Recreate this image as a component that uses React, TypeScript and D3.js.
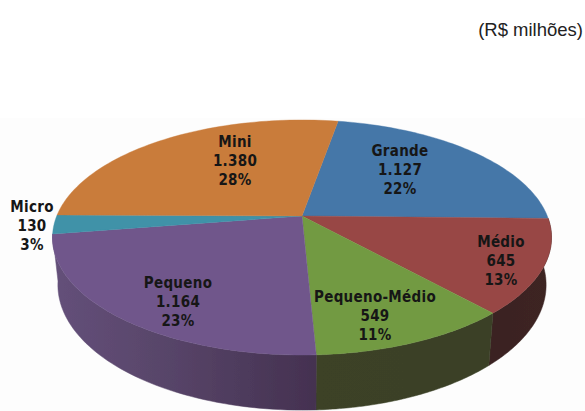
import React from "react";
import * as d3 from "d3";

const categories = ["Grande", "Médio", "Pequeno-Médio", "Pequeno", "Micro", "Mini"];
const valueLabels = ["1.127", "645", "549", "1.164", "130", "1.380"];
const values = [1127, 645, 549, 1164, 130, 1380];
const shares = ["22%", "13%", "11%", "23%", "3%", "28%"];
const topColors = ["#4577a8", "#984745", "#729a42", "#70578b", "#3f92a8", "#c97b3b"];
const labelCentres: [number, number][] = [[400, 156], [501, 247], [375, 302], [178, 288], [32, 212], [235, 147]];

const W = 585, H = 411;
const startDeg = 10;

// perspective projection of the unit disc
const persp = 0.183;
const project = (t: number, cx: number, cy: number, c: number, a: number): [number, number] => {
  const X = Math.sin(t), Y = -Math.cos(t), k = 1 - persp * Y;
  return [cx + (c * X) / k, cy + (a * Y) / k];
};
const topPt = (t: number) => project(t, 302, 216, 245.3, 113.6);
const botPt = (t: number) => project(t, 302, 262, 240, 121);

const pie = d3.pie<number>().sort(null).startAngle((startDeg * Math.PI) / 180).endAngle((startDeg * Math.PI) / 180 + 2 * Math.PI);
const arcs = pie(values);
const samples = (a: number, b: number) => d3.range(0, 61).map((i) => a + ((b - a) * i) / 60);
const line = d3.line();

export default function App() {
  const sideArcs = arcs
    .map((d, i) => {
      const s = Math.max(d.startAngle, Math.PI / 2);
      const e = Math.min(d.endAngle, (3 * Math.PI) / 2 - 0.02);
      return { i, s, e, d };
    })
    .filter((o) => o.e > o.s);
  return (
    <svg
      width={W}
      height={H}
      viewBox={`0 0 ${W} ${H}`}
      style={{ position: "absolute", left: 0, top: 0, display: "block" }}
    >
      <defs>
        <filter id="soft" x="-5%" y="-5%" width="110%" height="110%">
          <feGaussianBlur stdDeviation="0.6" />
        </filter>
        <linearGradient id="side1" gradientUnits="userSpaceOnUse" x1="490" x2="552" y1="0" y2="0">
          <stop offset="0" stopColor="#3a2322" />
          <stop offset="1" stopColor="#3d2524" />
        </linearGradient>
        <linearGradient id="side2" gradientUnits="userSpaceOnUse" x1="317" x2="494" y1="0" y2="0">
          <stop offset="0" stopColor="#3c4227" />
          <stop offset="1" stopColor="#3a4026" />
        </linearGradient>
        <linearGradient id="side3" gradientUnits="userSpaceOnUse" x1="53" x2="317" y1="0" y2="0">
          <stop offset="0" stopColor="#64507a" />
          <stop offset="0.45" stopColor="#574468" />
          <stop offset="1" stopColor="#443150" />
        </linearGradient>
      </defs>
      <rect x={0} y={118} width={W} height={H - 118} fill="#fdfdfd" />
      <text x={583} y={36} textAnchor="end" fontFamily="Liberation Sans, Arial, sans-serif" fontSize={18.5} fill="#222">
        (R$ milhões)
      </text>
      <g filter="url(#soft)">
        {sideArcs.map((o) => {
          const ang = samples(o.s, o.e);
          const pts = [...ang.map(topPt), ...ang.slice().reverse().map(botPt)];
          return <path key={o.i} d={line(pts as [number, number][]) + "Z"} fill={`url(#side${o.i})`} stroke={`url(#side${o.i})`} strokeWidth={0.5} />;
        })}
        {arcs.map((d, i) => {
          const pts = [[302, 216] as [number, number], ...samples(d.startAngle, d.endAngle).map(topPt)];
          return <path key={i} d={line(pts) + "Z"} fill={topColors[i]} stroke={topColors[i]} strokeWidth={0.4} />;
        })}
      </g>
      {categories.map((c, i) => {
        const [x, y] = labelCentres[i];
        const lines = [c, valueLabels[i], shares[i]];
        return (
          <text
            key={c}
            x={x}
            y={y}
            textAnchor="middle"
            fontFamily="DejaVu Sans Condensed, DejaVu Sans, sans-serif"
            fontWeight="bold"
            fontSize={15}
            fill="#161616"
            letterSpacing={0.3}
          >
            {lines.map((l, j) => (
              <tspan key={j} x={x} dy={j === 0 ? 0 : 19}>
                {l}
              </tspan>
            ))}
          </text>
        );
      })}
    </svg>
  );
}
